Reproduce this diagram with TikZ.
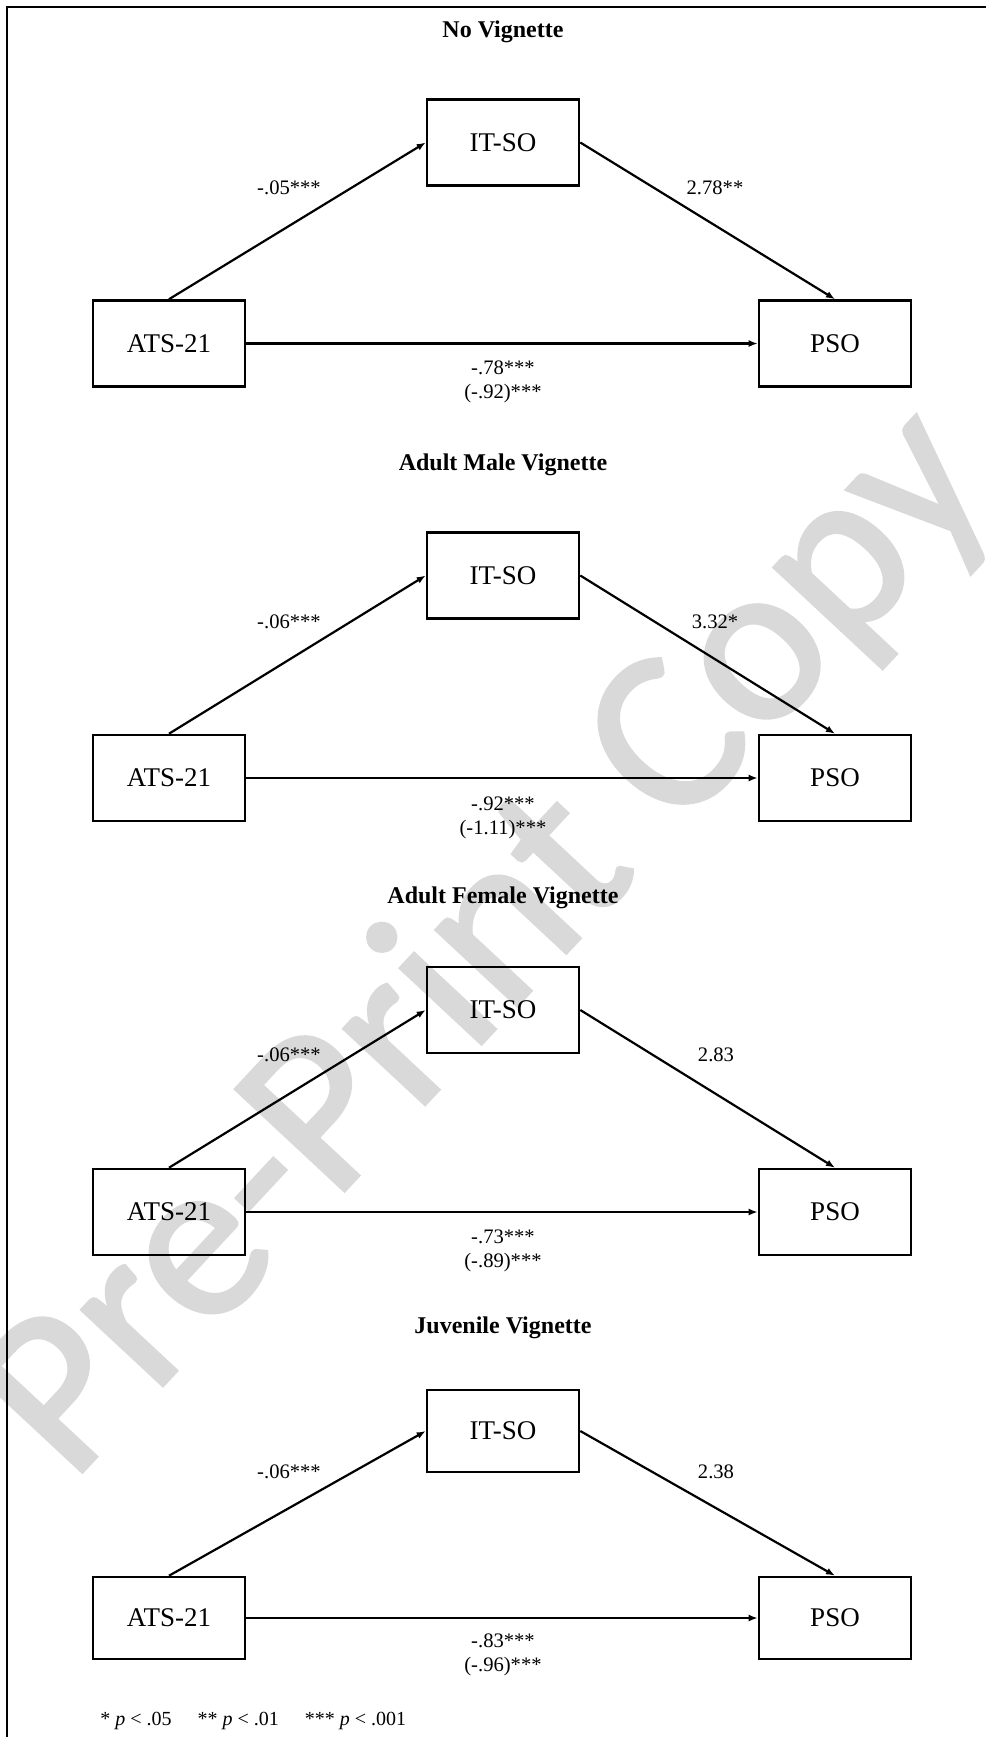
\documentclass[tikz,border=0pt]{standalone}
\usepackage{fontspec}
\setmainfont{Liberation Serif}
\newfontfamily\wmfont[RawFeature={embolden=1.5}]{Carlito}
\usetikzlibrary{arrows.meta,positioning}

\begin{document}
\begin{tikzpicture}[x=0.5pt, y=-0.5pt,
  var/.style={draw, line width=1.3pt, minimum width=76pt,
              minimum height=43pt, inner sep=0pt,
              font=\fontsize{13.5}{16}\selectfont},
  ttl/.style={font=\fontsize{12}{14}\selectfont\bfseries},
  coef/.style={font=\fontsize{10.3}{12}\selectfont, inner sep=0pt},
  link/.style={-{Latex[length=4.5pt,width=3.5pt]}, line width=1.1pt}
]
\useasboundingbox (0,0) rectangle (986,1737);
% Watermark
\node[rotate=47, text=black!15, font=\wmfont\fontsize{116}{116}\selectfont]
  (wm) at (490,945) {Pre-Print Copy};
% Frame
\draw[line width=1.2pt] (986,7) -- (7,7) -- (7,1737);
% No vignette
\node[ttl] (t1) at (503,32) {No Vignette};
\node[var] (itso1) at (503,142.5) {IT-SO};
\node[var] (ats1) at (169,343.5) {ATS-21};
\node[var] (pso1) at (835,343.5) {PSO};
\draw[link] (ats1.north) -- (itso1.west);
\draw[link] (itso1.east) -- (pso1.north);
\draw[link] (ats1.east) -- (pso1.west);
\node[coef] (a1) at (289,188) {-.05***};
\node[coef] (b1) at (715,188) {2.78**};
\node[coef, align=center] (c1) at (503,382) {-.78***\\(-.92)***};
% Adult male vignette
\node[ttl] (t2) at (503,465) {Adult Male Vignette};
\node[var] (itso2) at (503,575.5) {IT-SO};
\node[var] (ats2) at (169,778) {ATS-21};
\node[var] (pso2) at (835,778) {PSO};
\draw[link] (ats2.north) -- (itso2.west);
\draw[link] (itso2.east) -- (pso2.north);
\draw[link] (ats2.east) -- (pso2.west);
\node[coef] (a2) at (289,622) {-.06***};
\node[coef] (b2) at (715,622) {3.32*};
\node[coef, align=center] (c2) at (503,818) {-.92***\\(-1.11)***};
% Adult female vignette
\node[ttl] (t3) at (503,898) {Adult Female Vignette};
\node[var] (itso3) at (503,1010) {IT-SO};
\node[var] (ats3) at (169,1212) {ATS-21};
\node[var] (pso3) at (835,1212) {PSO};
\draw[link] (ats3.north) -- (itso3.west);
\draw[link] (itso3.east) -- (pso3.north);
\draw[link] (ats3.east) -- (pso3.west);
\node[coef] (a3) at (289,1055) {-.06***};
\node[coef] (b3) at (716,1055) {2.83};
\node[coef, align=center] (c3) at (503,1251) {-.73***\\(-.89)***};
% Juvenile vignette
\node[ttl] (t4) at (503,1328) {Juvenile Vignette};
\node[var, minimum height=41pt] (itso4) at (503,1431) {IT-SO};
\node[var, minimum height=41pt] (ats4) at (169,1618) {ATS-21};
\node[var, minimum height=41pt] (pso4) at (835,1618) {PSO};
\draw[link] (ats4.north) -- (itso4.west);
\draw[link] (itso4.east) -- (pso4.north);
\draw[link] (ats4.east) -- (pso4.west);
\node[coef] (a4) at (289,1472) {-.06***};
\node[coef] (b4) at (716,1472) {2.38};
\node[coef, align=center] (c4) at (503,1655) {-.83***\\(-.96)***};
% Significance note
\node[anchor=west, inner sep=0pt, font=\fontsize{10}{12}\selectfont]
  (note) at (100,1721) {* \textit{p} < .05\hspace{13pt}** \textit{p} < .01\hspace{13pt}*** \textit{p} < .001};
\end{tikzpicture}
\end{document}
